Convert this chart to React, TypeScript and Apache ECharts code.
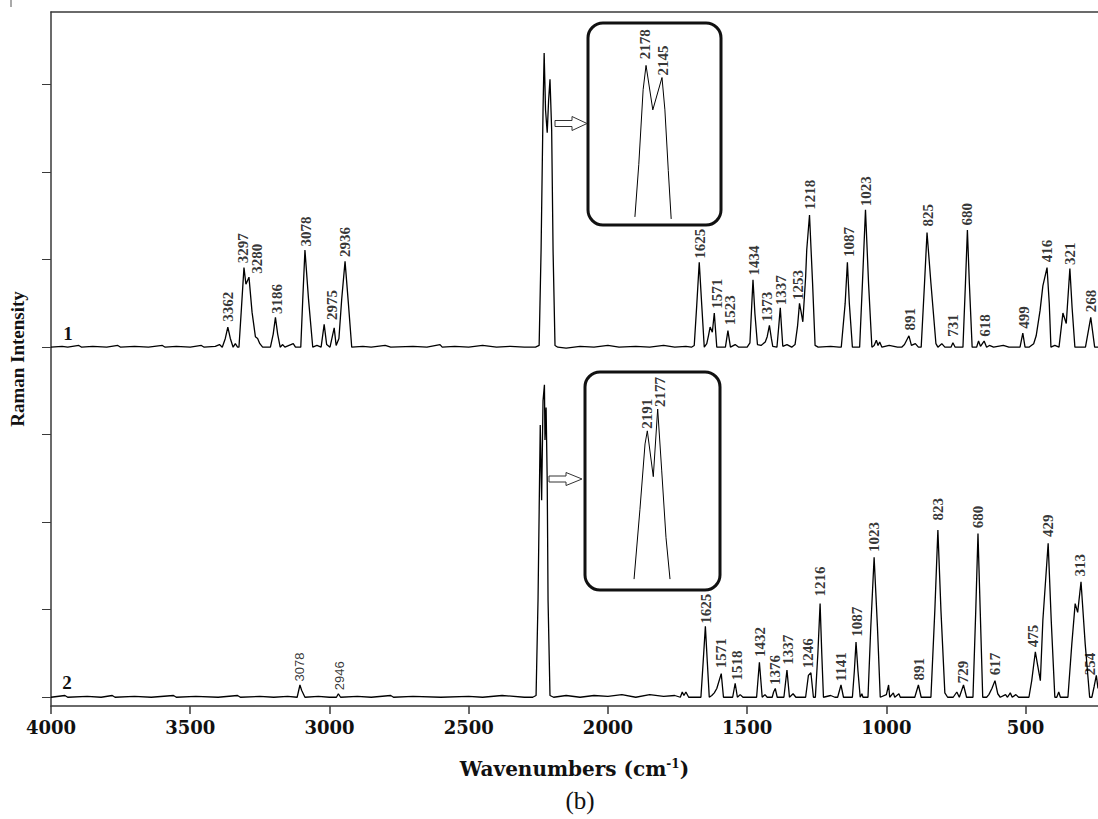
import React, { useEffect, useRef } from 'react';
import * as echarts from 'echarts';

// ---------- data ----------
const xTickValues = [4000, 3500, 3000, 2500, 2000, 1500, 1000, 500];
const yTickValues = [0, 100, 200, 300, 400, 500, 600, 700];
const offsetSpectrum1 = 400;

// spectrum 1 : [wavenumber, relative intensity]
const spectrum1: number[][] = [
  [4000,0],[3960,1],[3940,0],[3900,2],[3890,0],[3850,1],[3800,0],[3760,2],[3750,0],[3700,1],[3650,0],[3600,2],[3590,0],[3550,1],[3500,0],[3460,2],[3450,0],[3410,1],[3395,3],
  [3385,0],[3374,10],[3365,23],[3356,10],[3346,0],[3338,4],[3330,0],
  [3325,0],[3316,45],[3307,91],[3300,72],[3289,80],[3278,40],[3266,12],[3258,10],[3250,4],[3240,0],
  [3212,0],[3202,15],[3194,34],[3186,15],[3177,0],[3168,3],[3160,0],[3130,4],[3122,0],
  [3103,0],[3096,54],[3088,111],[3075,54],[3060,0],
  [3045,2],[3030,0],[3019,26],[3010,3],[2998,0],[2983,22],[2976,2],[2966,10],[2956,55],[2944,98],[2932,50],[2920,0],
  [2880,1],[2850,0],[2800,2],[2780,0],[2700,1],[2650,0],[2603,3],[2595,0],[2550,1],[2500,0],[2450,2],[2400,0],[2350,1],[2300,0],[2260,0],
  [2247,2],[2240,111],[2233,271],[2229,336],[2224,271],[2218,245],[2213,282],[2208,306],[2202,248],[2197,111],[2190,2],[2180,0],
  [2150,-1],[2100,1],[2050,0],[2000,2],[1960,0],[1900,1],[1850,0],[1800,2],[1760,0],[1720,1],[1700,0],
  [1690,2],[1681,48],[1672,97],[1663,48],[1654,0],[1645,4],[1639,13],[1633,23],[1625,17],[1618,39],[1609,0],[1578,0],[1569,19],[1560,0],[1543,3],[1530,0],
  [1500,0],[1490,5],[1485,38],[1479,77],[1472,38],[1463,3],[1450,2],[1435,6],[1428,12],[1420,25],[1413,10],[1408,1],[1393,0],[1387,22],[1381,45],[1376,20],[1372,1],[1357,3],[1340,0],[1328,3],[1319,24],[1312,50],[1306,40],[1300,29],[1290,80],[1286,111],[1276,151],[1265,73],[1256,2],[1245,0],
  [1200,1],[1170,0],[1162,0],[1148,50],[1140,97],[1133,50],[1122,0],
  [1096,0],[1086,73],[1075,157],[1064,73],[1052,0],[1044,2],[1036,8],[1030,2],[1024,6],[1016,0],
  [990,2],[960,0],[945,0],[935,3],[919,13],[910,2],[896,4],[885,0],
  [875,0],[863,73],[854,131],[840,73],[822,4],[815,0],[801,4],[790,0],[768,0],[761,5],[753,0],
  [725,0],[716,73],[709,134],[702,73],[692,0],[676,0],[669,7],[662,1],[649,7],[640,0],[630,2],[615,0],[580,2],[560,0],
  [520,0],[510,16],[502,0],[488,0],[471,4],[462,13],[448,42],[438,70],[423,91],[415,50],[409,0],
  [395,2],[380,0],[366,39],[354,27],[341,90],[333,45],[323,0],[285,0],[266,34],[252,0],[240,0],
];

// spectrum 2 : [wavenumber, relative intensity]
const spectrum2: number[][] = [
  [4000,0],[3950,2],[3940,0],[3870,1],[3820,0],[3780,2],[3770,0],[3700,1],[3640,0],[3560,2],[3550,0],[3480,1],[3400,0],[3330,2],[3320,0],[3250,1],[3200,0],[3150,1],
  [3116,0],[3106,14],[3100,8],[3088,0],[3040,1],[3000,0],[2975,0],[2968,4],[2960,0],[2900,1],[2850,0],[2780,2],[2770,0],[2700,1],[2600,0],[2500,1],[2450,0],[2380,2],[2300,0],[2270,0],
  [2258,2],[2251,111],[2243,311],[2238,225],[2233,339],[2228,357],[2226,294],[2222,331],[2218,248],[2215,111],[2208,2],[2195,0],
  [2150,2],[2100,0],[2050,2],[2000,1],[1950,3],[1900,0],[1850,3],[1800,1],[1760,2],[1740,0],[1733,6],[1727,2],[1720,6],[1710,0],
  [1666,0],[1658,40],[1650,81],[1643,40],[1636,0],[1627,2],[1618,5],[1609,10],[1593,27],[1585,0],
  [1552,0],[1543,16],[1535,0],[1525,3],[1515,0],
  [1466,0],[1456,40],[1446,0],[1436,3],[1428,0],
  [1410,0],[1405,6],[1399,10],[1392,0],
  [1368,0],[1357,31],[1348,0],[1335,4],[1325,0],
  [1290,0],[1280,25],[1271,28],[1262,0],[1255,0],[1246,50],[1238,107],[1232,50],[1226,0],
  [1200,2],[1185,0],[1175,0],[1163,14],[1154,0],
  [1122,0],[1115,30],[1109,63],[1102,30],[1094,0],[1088,4],[1084,0],
  [1066,0],[1056,80],[1044,160],[1032,80],[1022,0],[1000,3],[992,14],[988,0],[975,5],[970,0],[955,4],[950,0],
  [898,0],[885,14],[875,0],
  [840,0],[826,99],[815,191],[804,99],[790,5],[780,0],
  [760,0],[747,6],[738,0],[723,14],[712,0],
  [689,0],[679,99],[671,187],[663,99],[654,0],
  [640,0],[632,3],[621,10],[610,19],[600,4],[591,0],[572,3],[565,0],[555,5],[548,0],[535,3],[525,0],
  [488,0],[478,19],[465,52],[457,37],[447,19],[438,88],[419,176],[408,88],[395,0],[388,0],[381,6],[375,0],
  [348,0],[334,61],[322,107],[313,97],[301,132],[286,61],[270,0],
  [262,0],[254,12],[246,25],[240,10],
];

// zoomed insets of the 2100-2200 band
const inset1: number[][] = [[2201,4],[2193,30],[2184,67],[2178,79],[2164,57],[2145,73],[2139,57],[2132,27],[2126,3]];
const inset2: number[][] = [[2207.5,5],[2200,37],[2193.5,67],[2190.6,73],[2183,52],[2177.4,83],[2172.3,55],[2166.8,24],[2161.7,5]];

// peak labels: [wavenumber, label base (relative intensity), text]
const peakLabels1: [number, number, string][] = [
  [3363,29,'3362'],[3309,96,'3297'],[3261,84,'3280'],[3189,38,'3186'],[3085,115,'3078'],[2992,31,'2975'],[2944,103,'2936'],
  [1669,101,'1625'],[1609,44,'1571'],[1561,25,'1523'],[1477,82,'1434'],[1427,29,'1373'],[1378,48,'1337'],[1316,54,'1253'],
  [1274,157,'1218'],[1136,103,'1087'],[1074,161,'1023'],[914,19,'891'],[851,138,'825'],[761,12,'731'],[709,139,'680'],
  [645,12,'618'],[507,21,'499'],[423,97,'416'],[340,94,'321'],[264,40,'268'],
];
const peakLabels2: [number, number, string][] = [
  [1648,84,'1625'],[1593,33,'1571'],[1537,19,'1518'],[1453,46,'1432'],[1399,14,'1376'],[1352,37,'1337'],[1280,33,'1246'],
  [1238,115,'1216'],[1163,18,'1141'],[1106,69,'1087'],[1044,166,'1023'],[882,19,'891'],[816,202,'823'],[725,16,'729'],
  [671,193,'680'],[609,25,'617'],[472,57,'475'],[418,183,'429'],[304,138,'313'],[268,25,'254'],
];
const peakLabels2Sans: [number, number, string][] = [[3106,18,'3078'],[2964,8,'2946']];
const insetLabels1: [number, number, string][] = [[2180,82,'2178'],[2143,74,'2145']];
const insetLabels2: [number, number, string][] = [[2191,74,'2191'],[2175,84,'2177']];

// ---------- styling ----------
const SERIF = 'Liberation Serif';
const WIDE_SERIF = 'DejaVu Serif';
const AXIS_COLOR = '#3a3a3a';

function shifted(data: number[][], off: number) {
  return data.map((d) => [d[0], d[1] + off]);
}

function labelSeries(
  labels: [number, number, string][],
  off: number,
  xi: number,
  yi: number,
  family: string,
  size: number,
  weight: string
) {
  return {
    type: 'scatter',
    xAxisIndex: xi,
    yAxisIndex: yi,
    symbolSize: 1,
    silent: true,
    itemStyle: { color: 'rgba(0,0,0,0)' },
    data: labels.map((l) => ({ value: [l[0], l[1] + off], name: l[2] })),
    label: {
      show: true,
      formatter: (p: any) => p.name,
      position: 'inside',
      rotate: 90,
      align: 'left',
      verticalAlign: 'middle',
      fontFamily: family,
      fontSize: size,
      fontWeight: weight,
      color: '#000',
    },
  };
}

function lineSeries(data: number[][], xi: number, yi: number, width = 1.3) {
  return {
    type: 'line',
    xAxisIndex: xi,
    yAxisIndex: yi,
    data,
    symbol: 'none',
    silent: true,
    lineStyle: { color: '#000', width },
  };
}

export default function App() {
  const ref = useRef<HTMLDivElement>(null);

  useEffect(() => {
    if (!ref.current) return;
    const chart = echarts.init(ref.current, null, { renderer: 'svg' });

    const option: any = {
      animation: false,
      backgroundColor: '#ffffff',
      grid: [
        { left: 51, right: 0, top: 12, bottom: 113 },
        { left: 588, top: 23, width: 133, height: 202 },
        { left: 585, top: 372, width: 135, height: 218 },
      ],
      xAxis: [
        {
          type: 'value',
          gridIndex: 0,
          inverse: true,
          min: 240,
          max: 4000,
          name: 'Wavenumbers (cm{sup|-1})',
          nameLocation: 'middle',
          nameGap: 52,
          nameTextStyle: {
            fontFamily: WIDE_SERIF,
            fontWeight: 'bold',
            fontSize: 20,
            color: '#111',
            rich: {
              sup: { fontFamily: WIDE_SERIF, fontWeight: 'bold', fontSize: 12, color: '#111', padding: [0, 0, 10, 0] },
            },
          },
          axisLine: { show: true, onZero: false, lineStyle: { color: AXIS_COLOR, width: 1.5 } },
          axisTick: { show: true, length: 8, customValues: xTickValues, lineStyle: { color: AXIS_COLOR, width: 1.5 } },
          axisLabel: {
            show: true,
            customValues: xTickValues,
            formatter: (v: number) => String(v),
            margin: 12,
            fontFamily: WIDE_SERIF,
            fontWeight: 'bold',
            fontSize: 18,
            color: '#111',
          },
          splitLine: { show: false },
        },
        {
          type: 'value',
          gridIndex: 0,
          position: 'top',
          inverse: true,
          min: 240,
          max: 4000,
          axisLine: { show: true, onZero: false, lineStyle: { color: AXIS_COLOR, width: 1.5 } },
          axisTick: { show: false },
          axisLabel: { show: false },
          splitLine: { show: false },
        },
        { type: 'value', gridIndex: 1, inverse: true, min: 2023, max: 2298, show: false, splitLine: { show: false } },
        { type: 'value', gridIndex: 2, inverse: true, min: 2098, max: 2270, show: false, splitLine: { show: false } },
      ],
      yAxis: [
        {
          type: 'value',
          gridIndex: 0,
          min: -10,
          max: 783,
          name: 'Raman Intensity',
          nameLocation: 'middle',
          nameGap: 24,
          nameTextStyle: { fontFamily: SERIF, fontWeight: 'bold', fontSize: 19, color: '#111' },
          axisLine: { show: true, onZero: false, lineStyle: { color: AXIS_COLOR, width: 1.5 } },
          axisTick: { show: true, length: 9, customValues: yTickValues, lineStyle: { color: AXIS_COLOR, width: 1 } },
          axisLabel: { show: false },
          splitLine: { show: false },
        },
        { type: 'value', gridIndex: 1, min: 0, max: 100, show: false, splitLine: { show: false } },
        { type: 'value', gridIndex: 2, min: 0, max: 100, show: false, splitLine: { show: false } },
      ],
      series: [
        lineSeries(shifted(spectrum1, offsetSpectrum1), 0, 0),
        lineSeries(spectrum2, 0, 0),
        lineSeries(inset1, 2, 1, 1),
        lineSeries(inset2, 3, 2, 1),
        labelSeries(peakLabels1, offsetSpectrum1, 0, 0, SERIF, 15, 'bold'),
        labelSeries(peakLabels2, 0, 0, 0, SERIF, 15, 'bold'),
        labelSeries(peakLabels2Sans, 0, 0, 0, 'Liberation Sans', 13, 'normal'),
        labelSeries(insetLabels1, 0, 2, 1, SERIF, 15, 'bold'),
        labelSeries(insetLabels2, 0, 3, 2, SERIF, 15, 'bold'),
      ],
      graphic: [
        { type: 'line', shape: { x1: 11, y1: 0, x2: 11, y2: 7 }, style: { stroke: '#555', lineWidth: 1 } },
        {
          type: 'rect',
          shape: { x: 588, y: 23, width: 133, height: 202, r: 15 },
          style: { fill: 'rgba(0,0,0,0)', stroke: '#111', lineWidth: 3 },
        },
        {
          type: 'rect',
          shape: { x: 585, y: 372, width: 135, height: 218, r: 15 },
          style: { fill: 'rgba(0,0,0,0)', stroke: '#111', lineWidth: 3 },
        },
        {
          type: 'polygon',
          shape: { points: [[555, 120.5], [572, 120.5], [572, 116.5], [587, 123.5], [572, 130.5], [572, 126.5], [555, 126.5]] },
          style: { fill: '#fff', stroke: '#333', lineWidth: 1 },
        },
        {
          type: 'polygon',
          shape: { points: [[549, 476], [566, 476], [566, 472.5], [582, 479], [566, 485.5], [566, 482], [549, 482]] },
          style: { fill: '#fff', stroke: '#333', lineWidth: 1 },
        },
        {
          type: 'text',
          x: 68,
          y: 333,
          style: { text: '1', font: `bold 19px "${SERIF}"`, fill: '#111', textAlign: 'center', textVerticalAlign: 'middle', align: 'center', verticalAlign: 'middle' },
        },
        {
          type: 'text',
          x: 67,
          y: 682,
          style: { text: '2', font: `bold 19px "${SERIF}"`, fill: '#111', textAlign: 'center', textVerticalAlign: 'middle', align: 'center', verticalAlign: 'middle' },
        },
        {
          type: 'text',
          x: 580,
          y: 800,
          style: { text: '(b)', font: `25px "${SERIF}"`, fill: '#111', textAlign: 'center', textVerticalAlign: 'middle', align: 'center', verticalAlign: 'middle' },
        },
      ],
    };

    chart.setOption(option);
    return () => chart.dispose();
  }, []);

  return (
    <div
      ref={ref}
      style={{ position: 'absolute', left: 0, top: 0, width: 1098, height: 819, background: '#fff' }}
    />
  );
}
